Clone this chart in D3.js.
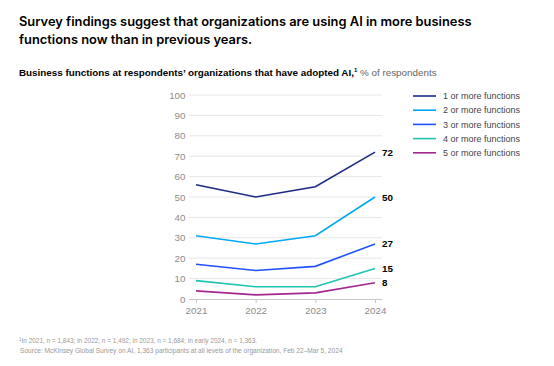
<!DOCTYPE html>
<html><head><meta charset="utf-8">
<script src="https://cdn.jsdelivr.net/npm/d3@7"></script>
<style>
html,body{margin:0;padding:0;background:#fff;}
svg{display:block;font-family:"Liberation Sans",Arial,sans-serif;}
</style></head>
<body><svg id="c" width="554" height="366"></svg>
<script>
const years = [2021, 2022, 2023, 2024];
const seriesNames = ["1 or more functions","2 or more functions","3 or more functions","4 or more functions","5 or more functions"];
const s1 = [56, 50, 55, 72];
const s2 = [31, 27, 31, 50];
const s3 = [17, 14, 16, 27];
const s4 = [9, 6, 6, 15];
const s5 = [4, 2, 3, 8];
const yTicks = [0,10,20,30,40,50,60,70,80,90,100];
const colors = ["#1b2a83","#00a9f4","#2251ff","#1ec3b3","#a4278f"];
const seriesValues = [s1,s2,s3,s4,s5];

const svg = d3.select("#c");
const x = d3.scalePoint().domain(years).range([196, 375]);
const y = d3.scaleLinear().domain([0,100]).range([299, 95]);

function fit(sel, target){
  const w = sel.node().getComputedTextLength();
  const fs = parseFloat(sel.attr("font-size"));
  sel.attr("font-size", fs*target/w);
}

// Title
const t1 = svg.append("text").attr("x",19).attr("y",25.5).attr("font-size",15)
  .attr("font-family","Inter, sans-serif").attr("font-weight",600).attr("fill","#000")
  .text("Survey findings suggest that organizations are using AI in more business");
fit(t1, 453);
const t2 = svg.append("text").attr("x",19).attr("y",44).attr("font-size",t1.attr("font-size"))
  .attr("font-family","Inter, sans-serif").attr("font-weight",600).attr("fill","#000")
  .text("functions now than in previous years.");

const sub = svg.append("text").attr("x",19).attr("y",76).attr("font-size",10).attr("fill","#000");
sub.append("tspan").attr("font-weight","bold").text("Business functions at respondents’ organizations that have adopted AI,");
sub.append("tspan").attr("font-size",6).attr("dy",-4).attr("font-weight","bold").text("1");
sub.append("tspan").attr("dy",4).attr("fill","#666").text(" % of respondents");
fit(sub, 418);

// grid
const g = svg.append("g");
g.selectAll("line.grid").data(yTicks.filter(d=>d>0)).join("line")
  .attr("x1",189).attr("x2",382).attr("y1",d=>y(d)).attr("y2",d=>y(d))
  .attr("stroke","#e6e6e6").attr("stroke-width",1);

// y axis labels
const yAxis = d3.axisLeft(y).tickValues(yTicks).tickSize(0).tickPadding(0);
const ya = svg.append("g").attr("transform","translate(185.5,0)").call(yAxis);
ya.select(".domain").remove();
ya.selectAll("text").attr("font-size",9.8).attr("fill","#8c8c8c").attr("font-family","Liberation Sans, Arial, sans-serif");

// x axis
const xAxis = d3.axisBottom(x).tickSize(4).tickPadding(4.5).tickFormat(d3.format("d"));
const xa = svg.append("g").attr("transform",`translate(0,${y(0)})`).call(xAxis);
xa.select(".domain").attr("d","M189,0.5H382").attr("stroke","#c8c8c8");
xa.selectAll(".tick line").attr("stroke","#c8c8c8");
xa.selectAll("text").attr("font-size",9.8).attr("fill","#8c8c8c").attr("font-family","Liberation Sans, Arial, sans-serif");

// lines
const line = d3.line().x((d,i)=>x(years[i])).y(d=>y(d));
svg.selectAll("path.series").data(seriesValues).join("path")
  .attr("class","series").attr("d",line).attr("fill","none")
  .attr("stroke",(d,i)=>colors[i]).attr("stroke-width",1.6);

// end labels
svg.selectAll("text.end").data(seriesValues).join("text")
  .attr("class","end").attr("x",x(years[3])+7).attr("y",d=>y(d[3])+3.5)
  .attr("font-size",9.8).attr("font-weight","bold").attr("fill","#000")
  .text(d=>d[3]);

// legend
const lg = svg.append("g");
seriesNames.forEach((n,i)=>{
  const yy = 96 + i*14.2;
  lg.append("line").attr("x1",413).attr("x2",436).attr("y1",yy).attr("y2",yy)
    .attr("stroke",colors[i]).attr("stroke-width",1.6);
  lg.append("text").attr("x",443).attr("y",yy+3.2).attr("font-size",9).attr("fill","#444").text(n);
});

// footnotes
const fn = svg.append("text").attr("x",19).attr("y",343).attr("font-size",7).attr("fill","#999");
fn.append("tspan").attr("font-size",4.5).attr("dy",-2.5).text("1");
fn.append("tspan").attr("dy",2.5).text("In 2021, n = 1,843; in 2022, n = 1,492; in 2023, n = 1,684; in early 2024, n = 1,363.");
fit(fn, 238);
const fn2 = svg.append("text").attr("x",20).attr("y",352.5).attr("font-size",7).attr("fill","#999")
  .text("Source: McKinsey Global Survey on AI, 1,363 participants at all levels of the organization, Feb 22–Mar 5, 2024");
fit(fn2, 323);
</script></body></html>
